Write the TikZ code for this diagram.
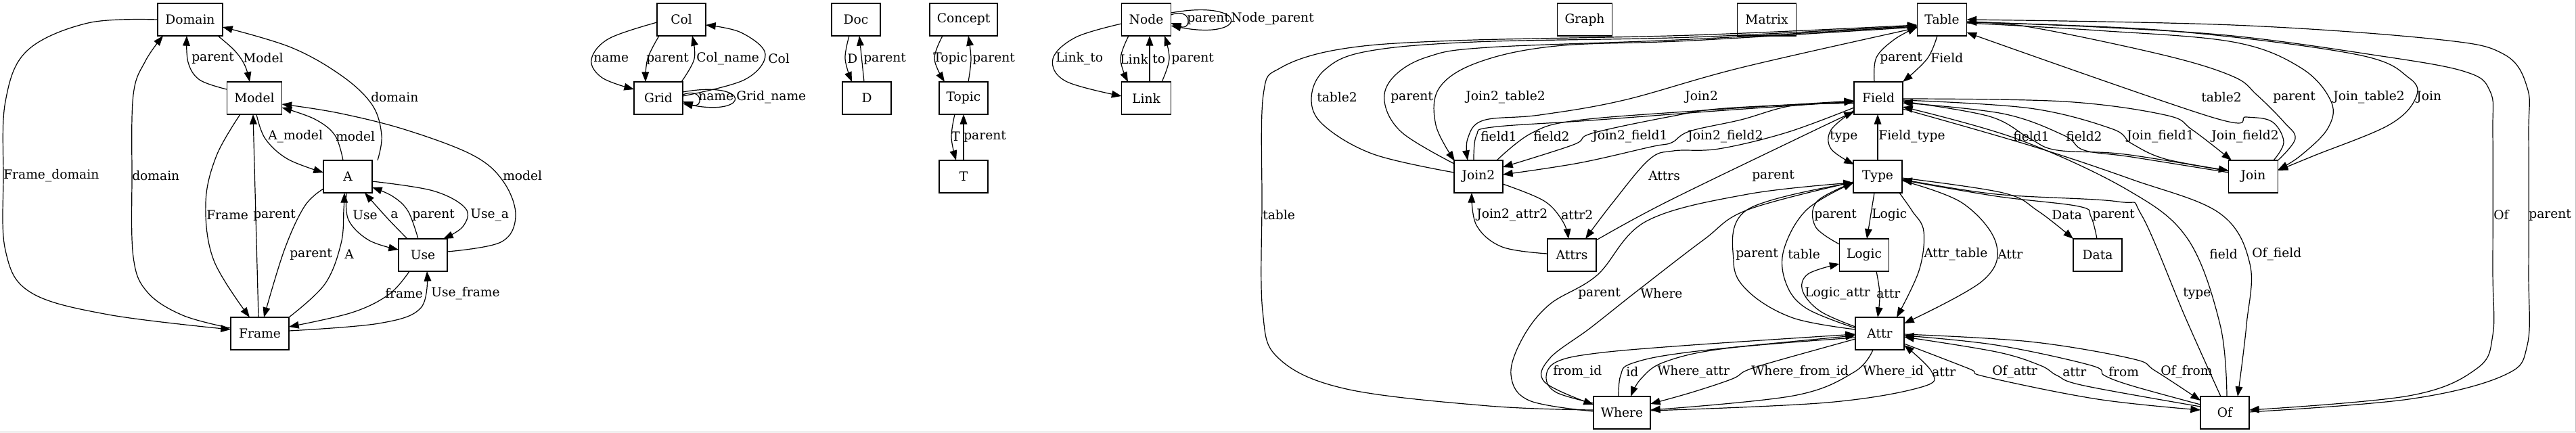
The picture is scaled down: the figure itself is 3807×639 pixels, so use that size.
\documentclass[tikz,border=0pt]{standalone}
\usepackage{fontspec}
\setmainfont{DejaVu Serif}
\usetikzlibrary{arrows.meta}
\newcommand{\elab}[4]{\node[lb] (#1) at (#2,#3) {#4};}
\begin{document}
\begin{tikzpicture}[x=0.75pt,y=-0.75pt,
 box/.style={draw, line width=0.9pt, minimum height=36pt, inner sep=2pt, font=\fontsize{14pt}{16pt}\selectfont},
 e/.style={draw, line width=0.9pt, -{Triangle[length=11pt,width=8pt]}},
 lb/.style={anchor=west, inner sep=0pt, font=\fontsize{14pt}{16pt}\selectfont},
 sm/.style={smooth, tension=0.6}]
\useasboundingbox (0,0) rectangle (3807,639);
% ---------------- nodes
\node[box, minimum width=72pt] (Domain) at (281,29) {Domain};
\node[box, minimum width=60.75pt] (Model) at (376,145) {Model};
\node[box, minimum width=54pt] (A) at (514,261) {A};
\node[box, minimum width=54pt] (Use) at (625,377) {Use};
\node[box, minimum width=64.5pt] (Frame) at (384,493) {Frame};
\node[box, minimum width=54pt] (Col) at (1007,29) {Col};
\node[box, minimum width=54pt] (Grid) at (973,145) {Grid};
\node[box, minimum width=54pt] (Doc) at (1265,29) {Doc};
\node[box, minimum width=54pt] (D) at (1281,145) {D};
\node[box, minimum width=75pt] (Concept) at (1424,29) {Concept};
\node[box, minimum width=54pt] (Topic) at (1424,145) {Topic};
\node[box, minimum width=54pt] (T) at (1424,261) {T};
\node[box, minimum width=54.75pt] (Node) at (1694,29) {Node};
\node[box, minimum width=54.75pt] (Link) at (1694,145) {Link};
\node[box, minimum width=60.75pt] (Graph) at (2342,29) {Graph};
\node[box, minimum width=65.25pt] (Matrix) at (2611,29) {Matrix};
\node[box, minimum width=54.75pt] (Table) at (2870,29) {Table};
\node[box, minimum width=54pt] (Field) at (2776,145) {Field};
\node[box, minimum width=54pt] (Join2) at (2185,261) {Join2};
\node[box, minimum width=54pt] (Type) at (2775,261) {Type};
\node[box, minimum width=54pt] (Attrs) at (2323,377) {Attrs};
\node[box, minimum width=54.75pt] (Logic) at (2755,377) {Logic};
\node[box, minimum width=54pt] (Attr) at (2778,493) {Attr};
\node[box, minimum width=54pt] (Data) at (3100,377) {Data};
\node[box, minimum width=63pt] (Where) at (2397,610) {Where};
\node[box, minimum width=54.75pt] (Join) at (3330,261) {Join};
\node[box, minimum width=54pt] (Of) at (3288,610) {Of};
% ---------------- left cluster
\draw[e] plot[sm] coordinates {([shift={(-48,0)}]Domain.center) (130,34) (40,75) (8,150) (5,260) (8,370) (45,432) (160,465) ([shift={(-43,-6)}]Frame.center)};
\draw[e] plot[sm] coordinates {([shift={(-43,-8)}]Frame.center) (270,466) (218,432) (197,380) (195,260) (197,140) (215,90) ([shift={(-40,24)}]Domain.center)};
\draw[e] plot[sm] coordinates {([shift={(-41,-13)}]Model.center) (295,118) (278,92) ([shift={(-5,24)}]Domain.center)};
\draw[e] plot[sm] coordinates {([shift={(41,24)}]Domain.center) (347,75) (362,97) ([shift={(-7,-24)}]Model.center)};
\draw[e] plot[sm] coordinates {([shift={(44,-24)}]A.center) (564,200) (550,155) (505,112) (430,70) ([shift={(48,11)}]Domain.center)};
\draw[e] plot[sm] coordinates {([shift={(3,24)}]Model.center) (392,205) (425,235) ([shift={(-36,-6)}]A.center)};
\draw[e] plot[sm] coordinates {([shift={(-7,-24)}]A.center) (495,200) (465,176) ([shift={(40.5,14)}]Model.center)};
\draw[e] plot[sm] coordinates {([shift={(36,-5)}]Use.center) (740,358) (762,320) (745,270) (700,230) (600,192) (500,167) ([shift={(40.5,9)}]Model.center)};
\draw[e] plot[sm] coordinates {([shift={(-21,24)}]Model.center) (320,230) (304,300) (316,385) ([shift={(-15,-24)}]Frame.center)};
\draw[e] ([shift={(-2,-24)}]Frame.center) -- ([shift={(-2,24)}]Model.center);
\draw[e] plot[sm] coordinates {([shift={(-36,18)}]A.center) (450,305) (420,370) ([shift={(6,-24)}]Frame.center)};
\draw[e] plot[sm] coordinates {([shift={(43,-24)}]Frame.center) (480,420) (504,360) (508,310) ([shift={(-5,24)}]A.center)};
\draw[e] plot[sm] coordinates {([shift={(-2,24)}]A.center) (515,325) (545,355) ([shift={(-36,-8)}]Use.center)};
\draw[e] plot[sm] coordinates {([shift={(-23,-24)}]Use.center) (572,322) ([shift={(25,24)}]A.center)};
\draw[e] plot[sm] coordinates {([shift={(-7,-24)}]Use.center) (603,312) (580,290) ([shift={(36,16)}]A.center)};
\draw[e] plot[sm] coordinates {([shift={(36,7)}]A.center) (640,282) (688,308) (684,335) ([shift={(30,-24)}]Use.center)};
\draw[e] plot[sm] coordinates {([shift={(-20,24)}]Use.center) (575,435) (520,462) ([shift={(43,-10)}]Frame.center)};
\draw[e] plot[sm] coordinates {([shift={(43,-4)}]Frame.center) (560,478) (622,455) ([shift={(6,24)}]Use.center)};
\elab{l1}{5}{260}{Frame\_domain}
\elab{l2}{195}{260}{domain}
\elab{l3}{283}{86}{parent}
\elab{l4}{359}{86}{Model}
\elab{l5}{548}{144}{domain}
\elab{l6}{396}{202}{A\_model}
\elab{l7}{496}{202}{model}
\elab{l8}{743}{260}{model}
\elab{l9}{305}{318}{Frame}
\elab{l10}{374}{318}{parent}
\elab{l11}{521}{318}{Use}
\elab{l12}{577}{318}{a}
\elab{l13}{609}{318}{parent}
\elab{l14}{695}{318}{Use\_a}
\elab{l15}{428}{376}{parent}
\elab{l16}{509}{376}{A}
\elab{l17}{569}{434}{frame}
\elab{l18}{637}{434}{Use\_frame}
% ---------------- middle
\draw[e] plot[sm] coordinates {([shift={(-36,4)}]Col.center) (900,57) (874,88) (890,115) ([shift={(-36,-13)}]Grid.center)};
\draw[e] plot[sm] coordinates {([shift={(-33,24)}]Col.center) (957,87) ([shift={(-19,-24)}]Grid.center)};
\draw[e] plot[sm] coordinates {([shift={(34,-24)}]Grid.center) (1026,87) ([shift={(16,24)}]Col.center)};
\draw[e] plot[sm] coordinates {([shift={(36,-3)}]Grid.center) (1100,118) (1131,80) (1095,48) ([shift={(36,8)}]Col.center)};
\draw[e] ([shift={(36,-5)}]Grid.center) .. controls (1040,128) and (1040,162) .. ([shift={(36,5)}]Grid.center);
\draw[e] ([shift={(36,-9)}]Grid.center) .. controls (1110,118) and (1110,172) .. ([shift={(36,8)}]Grid.center);
\draw[e] plot[sm] coordinates {([shift={(-10,24)}]Doc.center) (1249,87) ([shift={(-22,-24)}]D.center)};
\draw[e] ([shift={(-4,-24)}]D.center) -- ([shift={(5,24)}]Doc.center);
\draw[e] plot[sm] coordinates {([shift={(-31,24)}]Concept.center) (1381,87) ([shift={(-28,-24)}]Topic.center)};
\draw[e] plot[sm] coordinates {([shift={(7,-24)}]Topic.center) (1435,87) ([shift={(7,24)}]Concept.center)};
\draw[e] plot[sm] coordinates {([shift={(-13,24)}]Topic.center) (1406,203) ([shift={(-11,-24)}]T.center)};
\draw[e] ([shift={(0,-24)}]T.center) -- ([shift={(0,24)}]Topic.center);
\draw[e] plot[sm] coordinates {([shift={(-36.5,6)}]Node.center) (1590,55) (1556,87) (1575,120) ([shift={(-36.5,-3)}]Link.center)};
\draw[e] plot[sm] coordinates {([shift={(-26,24)}]Node.center) (1656,87) ([shift={(-27,-24)}]Link.center)};
\draw[e] ([shift={(5,-24)}]Link.center) -- ([shift={(5,24)}]Node.center);
\draw[e] plot[sm] coordinates {([shift={(23,-24)}]Link.center) (1728,87) ([shift={(27,24)}]Node.center)};
\draw[e] ([shift={(36.5,-7)}]Node.center) .. controls (1762,10) and (1762,46) .. ([shift={(36.5,5)}]Node.center);
\draw[e] ([shift={(36.5,-10)}]Node.center) .. controls (1847,-2) and (1847,60) .. ([shift={(36.5,9)}]Node.center);
\elab{m1}{877}{87}{name}
\elab{m2}{955}{87}{parent}
\elab{m3}{1029}{87}{Col\_name}
\elab{m4}{1135}{87}{Col}
\elab{m5}{1032}{144}{name}
\elab{m6}{1088}{144}{Grid\_name}
\elab{m7}{1252}{87}{D}
\elab{m8}{1276}{87}{parent}
\elab{m9}{1379}{87}{Topic}
\elab{m10}{1437}{87}{parent}
\elab{m11}{1406}{202}{T}
\elab{m12}{1424}{202}{parent}
\elab{m13}{1560}{87}{Link\_to}
\elab{m14}{1655}{87}{Link}
\elab{m15}{1703}{87}{to}
\elab{m16}{1731}{87}{parent}
\elab{m17}{1754}{28}{parent}
\elab{m18}{1819}{28}{Node\_parent}
% ---------------- right cluster
\draw[e] plot[sm] coordinates {([shift={(-42,-4)}]Where.center) (2200,600) (1990,575) (1890,530) (1866,460) (1865,300) (1867,140) (1893,100) (1985,72) (2150,60) (2500,52) ([shift={(-36.5,8)}]Table.center)};
\draw[e] plot[sm] coordinates {([shift={(-36,-6)}]Join2.center) (2030,228) (1956,185) (1938,145) (1958,103) (2020,76) (2180,62) (2500,55) ([shift={(-36.5,9)}]Table.center)};
\draw[e] plot[sm] coordinates {([shift={(-36,-19)}]Join2.center) (2072,196) (2046,150) (2060,113) (2110,84) (2200,70) (2500,58) ([shift={(-36.5,10)}]Table.center)};
\draw[e] plot[sm] coordinates {([shift={(-36.5,11)}]Table.center) (2500,60) (2300,68) (2185,92) (2127,130) (2122,185) ([shift={(-35,-23)}]Join2.center)};
\draw[e] plot[sm] coordinates {([shift={(-36.5,12)}]Table.center) (2573,100) (2400,148) (2275,170) (2192,178) (2169,205) ([shift={(-16,-24)}]Join2.center)};
\draw[e] plot[sm] coordinates {([shift={(-7,-24)}]Join2.center) (2182,200) (2205,188) (2350,178) (2550,163) ([shift={(-36,5)}]Field.center)};
\draw[e] plot[sm] coordinates {([shift={(27,-24)}]Join2.center) (2263,197) (2330,178) (2520,163) ([shift={(-36,4)}]Field.center)};
\draw[e] plot[sm] coordinates {([shift={(-36,6)}]Field.center) (2550,160) (2470,172) (2353,197) (2325,214) ([shift={(36,-14)}]Join2.center)};
\draw[e] plot[sm] coordinates {([shift={(-36,8)}]Field.center) (2650,156) (2573,177) (2497,194) (2470,211) (2440,217) (2333,241) ([shift={(36,-3)}]Join2.center)};
\draw[e] plot[sm] coordinates {([shift={(-36,14)}]Field.center) (2640,196) (2540,220) (2473,223) (2437,236) (2383,300) ([shift={(20,-24)}]Attrs.center)};
\draw[e] plot[sm] coordinates {([shift={(36,-22)}]Attrs.center) (2460,300) (2660,203) ([shift={(-36,20)}]Field.center)};
\draw[e] plot[sm] coordinates {([shift={(36,11)}]Join2.center) (2282,297) (2310,328) ([shift={(-5,-24)}]Attrs.center)};
\draw[e] plot[sm] coordinates {([shift={(-36,-2)}]Attrs.center) (2220,365) (2182,333) ([shift={(-10,24)}]Join2.center)};
\draw[e] plot[sm] coordinates {([shift={(-7,24)}]Table.center) (2848,87) ([shift={(36,-24)}]Field.center)};
\draw[e] plot[sm] coordinates {([shift={(-6,-24)}]Field.center) (2773,85) (2800,58) ([shift={(-36.5,11)}]Table.center)};
\draw[e] plot[sm] coordinates {([shift={(-36,18)}]Field.center) (2706,192) (2706,220) ([shift={(-35,-18)}]Type.center)};
\draw[e] ([shift={(0,-24)}]Type.center) -- ([shift={(-1,24)}]Field.center);
\draw[e] ([shift={(-5,24)}]Type.center) -- ([shift={(4,-24)}]Logic.center);
\draw[e] plot[sm] coordinates {([shift={(-36.5,-16)}]Logic.center) (2683,335) (2685,298) ([shift={(-36,9)}]Type.center)};
\draw[e] plot[sm] coordinates {([shift={(-36,-6)}]Attr.center) (2650,470) (2585,432) (2562,387) (2582,310) ([shift={(-36,9)}]Type.center)};
\draw[e] plot[sm] coordinates {([shift={(-36,-8)}]Attr.center) (2670,456) (2640,420) (2636,370) (2670,310) ([shift={(-36,9)}]Type.center)};
\draw[e] plot[sm] coordinates {([shift={(-36,-10)}]Attr.center) (2690,460) (2664,430) (2672,405) ([shift={(-36.5,13)}]Logic.center)};
\draw[e] plot[sm] coordinates {([shift={(18,24)}]Logic.center) (2778,435) ([shift={(-3,-24)}]Attr.center)};
\draw[e] plot[sm] coordinates {([shift={(32,24)}]Type.center) (2826,312) (2843,342) (2836,400) ([shift={(25,-24)}]Attr.center)};
\draw[e] plot[sm] coordinates {([shift={(36,6)}]Type.center) (2900,300) (2950,360) (2930,415) ([shift={(36,-15)}]Attr.center)};
\draw[e] plot[sm] coordinates {([shift={(36,2)}]Type.center) (2960,285) (3012,312) ([shift={(-36,-24)}]Data.center)};
\draw[e] plot[sm] coordinates {([shift={(-1,-24)}]Data.center) (3090,320) (3072,305) (2950,290) ([shift={(36,5)}]Type.center)};
\draw[e] plot[sm] coordinates {([shift={(-6,-24)}]Of.center) (3230,470) (3165,318) (3130,298) (2950,287) ([shift={(36,4)}]Type.center)};
\draw[e] plot[sm] coordinates {([shift={(3,-24)}]Of.center) (3281,480) (3233,353) (3143,280) (2980,205) ([shift={(36,13)}]Field.center)};
\draw[e] plot[sm] coordinates {([shift={(36,16)}]Field.center) (3000,215) (3150,265) (3280,315) (3325,390) (3320,480) ([shift={(19,-24)}]Of.center)};
\draw[e] plot[sm] coordinates {([shift={(-36.5,-8)}]Join.center) (3140,228) (3040,222) (3000,205) (2940,172) ([shift={(36,5)}]Field.center)};
\draw[e] plot[sm] coordinates {([shift={(-36.5,-6)}]Join.center) (3150,232) (3080,222) (3050,200) (2960,168) ([shift={(36,7)}]Field.center)};
\draw[e] plot[sm] coordinates {([shift={(36,3)}]Field.center) (3000,160) (3120,190) (3150,212) (3200,235) ([shift={(-36.5,-9)}]Join.center)};
\draw[e] plot[sm] coordinates {([shift={(36,1)}]Field.center) (3050,150) (3200,170) (3240,192) ([shift={(-32,-24)}]Join.center)};
\draw[e] plot[sm] coordinates {([shift={(30,-24)}]Join.center) (3375,210) (3358,180) (3320,173) (3268,173) ([shift={(36.5,19)}]Table.center)};
\draw[e] plot[sm] coordinates {([shift={(36.5,-24)}]Join.center) (3392,205) (3375,180) (3335,140) (3300,113) (3200,82) (3000,40) ([shift={(36.5,4)}]Table.center)};
\draw[e] plot[sm] coordinates {([shift={(36.5,5)}]Table.center) (3100,45) (3300,62) (3400,100) (3445,150) (3440,190) (3400,230) ([shift={(36.5,-10)}]Join.center)};
\draw[e] plot[sm] coordinates {([shift={(36.5,4)}]Table.center) (3200,45) (3480,80) (3560,115) (3570,145) (3530,185) (3420,230) ([shift={(36.5,-9)}]Join.center)};
\draw[e] plot[sm] coordinates {([shift={(36.5,3)}]Table.center) (3100,40) (3300,53) (3500,80) (3640,105) (3680,135) (3684,200) (3684,400) (3684,495) (3660,545) (3560,585) ([shift={(36,-4)}]Of.center)};
\draw[e] plot[sm] coordinates {([shift={(36,-1)}]Of.center) (3560,590) (3700,555) (3735,510) (3737,400) (3737,200) (3735,130) (3700,80) (3600,58) (3300,37) ([shift={(36.5,0)}]Table.center)};
\draw[e] plot[sm] coordinates {([shift={(-36,-9)}]Of.center) (3080,570) (3040,555) (3015,540) (2950,520) ([shift={(36,5)}]Attr.center)};
\draw[e] plot[sm] coordinates {([shift={(-36,-12)}]Of.center) (3150,570) (3110,555) (3090,540) (2950,510) ([shift={(36,3)}]Attr.center)};
\draw[e] plot[sm] coordinates {([shift={(36,15)}]Attr.center) (2910,545) (2935,557) (3100,590) ([shift={(-36,-4)}]Of.center)};
\draw[e] plot[sm] coordinates {([shift={(36,1)}]Attr.center) (3000,505) (3150,530) (3185,548) ([shift={(-36,-18)}]Of.center)};
\draw[e] plot[sm] coordinates {([shift={(-5,-24)}]Where.center) (2395,555) (2412,537) (2500,520) ([shift={(-36,3)}]Attr.center)};
\draw[e] plot[sm] coordinates {([shift={(-36,6)}]Attr.center) (2550,515) (2460,535) (2425,560) ([shift={(13,-24)}]Where.center)};
\draw[e] plot[sm] coordinates {([shift={(-36,8)}]Attr.center) (2620,535) (2580,548) (2560,560) (2500,580) ([shift={(42,-13)}]Where.center)};
\draw[e] plot[sm] coordinates {([shift={(-10,24)}]Attr.center) (2740,550) (2650,585) ([shift={(42,-4)}]Where.center)};
\draw[e] plot[sm] coordinates {([shift={(42,-3)}]Where.center) (2700,595) (2840,572) (2855,550) ([shift={(36,17)}]Attr.center)};
\draw[e] plot[sm] coordinates {([shift={(-42,-14)}]Where.center) (2300,580) (2285,558) (2300,535) (2360,522) (2500,510) ([shift={(-36,1)}]Attr.center)};
\draw[e] plot[sm] coordinates {([shift={(-36,8)}]Type.center) (2583,310) (2517,355) (2417,432) (2350,485) (2290,530) (2283,565) ([shift={(-42,-12)}]Where.center)};
\draw[e] plot[sm] coordinates {([shift={(-42,-2)}]Where.center) (2260,592) (2233,554) (2250,500) (2290,450) (2360,407) (2433,327) (2583,287) ([shift={(-36,9)}]Type.center)};
\elab{r1}{1946}{144}{table2}
\elab{r2}{2055}{144}{parent}
\elab{r3}{2166}{144}{Join2\_table2}
\elab{r4}{2490}{144}{Join2}
\elab{r5}{2188}{202}{field1}
\elab{r6}{2266}{202}{field2}
\elab{r7}{2353}{202}{Join2\_field1}
\elab{r8}{2494}{202}{Join2\_field2}
\elab{r9}{1866}{318}{table}
\elab{r10}{2182}{318}{Join2\_attr2}
\elab{r11}{2307}{318}{attr2}
\elab{r12}{2436}{260}{Attrs}
\elab{r13}{2589}{260}{parent}
\elab{r14}{2332}{434}{parent}
\elab{r15}{2424}{434}{Where}
\elab{r16}{2295}{550}{from\_id}
\elab{r17}{2403}{550}{id}
\elab{r18}{2449}{550}{Where\_attr}
\elab{r19}{2588}{550}{Where\_from\_id}
\elab{r20}{2753}{550}{Where\_id}
\elab{r21}{2855}{550}{attr}
\elab{r22}{2778}{86}{parent}
\elab{r23}{2853}{86}{Field}
\elab{r24}{2704}{202}{type}
\elab{r25}{2776}{202}{Field\_type}
\elab{r26}{2681}{318}{parent}
\elab{r27}{2766}{318}{Logic}
\elab{r28}{2565}{376}{parent}
\elab{r29}{2642}{376}{table}
\elab{r30}{2843}{376}{Attr\_table}
\elab{r31}{2952}{376}{Attr}
\elab{r32}{2667}{434}{Logic\_attr}
\elab{r33}{2773}{434}{attr}
\elab{r34}{3253}{144}{table2}
\elab{r35}{3359}{144}{parent}
\elab{r36}{2975}{202}{field1}
\elab{r37}{3053}{202}{field2}
\elab{r38}{3143}{202}{Join\_field1}
\elab{r39}{3268}{202}{Join\_field2}
\elab{r40}{3032}{318}{Data}
\elab{r41}{3092}{318}{parent}
\elab{r42}{3265}{376}{field}
\elab{r43}{3328}{376}{Of\_field}
\elab{r44}{3226}{434}{type}
\elab{r45}{2944}{550}{Of\_attr}
\elab{r46}{3048}{550}{attr}
\elab{r47}{3116}{550}{from}
\elab{r48}{3193}{550}{Of\_from}
\elab{r49}{3448}{144}{Join\_table2}
\elab{r50}{3571}{144}{Join}
\elab{r51}{3685}{318}{Of}
\elab{r52}{3737}{318}{parent}
% frame lines
\draw[gray!50, line width=1pt] (0,638.5) -- (3807,638.5);
\draw[gray!50, line width=1pt] (3806.5,0) -- (3806.5,639);
\end{tikzpicture}
\end{document}
